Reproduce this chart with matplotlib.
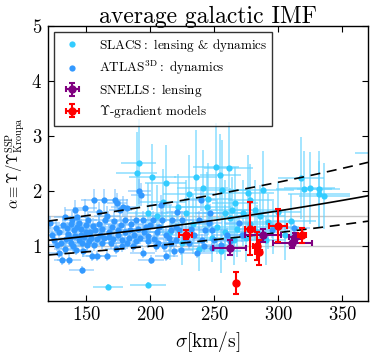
import numpy as np
import matplotlib
matplotlib.use("Agg")
import matplotlib.pyplot as plt

plt.rcParams['mathtext.fontset'] = 'cm'
plt.rcParams['font.family'] = 'serif'
plt.rcParams['font.serif'] = ['cmr10', 'DejaVu Serif']
plt.rcParams['axes.formatter.use_mathtext'] = True

# ATLAS3D : dynamics
atlas_sigma = [121.5, 123, 127.5, 128.8, 131, 133, 135, 136.5, 137, 139, 139.5, 140.5, 141, 143, 144,
               144.3, 145.6, 146.4, 147.4, 149, 149.5, 150.8, 151.5, 153.3, 154.6, 155.9, 157, 158.5,
               159.8, 161, 163.7, 165, 166, 167.5, 170, 172.7, 174, 174.8, 176.6, 177.9, 179, 180.5,
               181.8, 183, 184.3, 186.2, 188.7, 191.3, 192.6, 193.9, 194.4, 196.5, 197.8, 200.4, 202.2,
               204.3, 205.6, 208.1, 209.4, 210.7, 212.6, 214.6, 215.9, 217.2, 218.5, 219.8, 221.1, 222.4,
               223.7, 225, 236.6, 237.9, 239.2, 243, 245.6, 246.9, 248.2, 248.2, 259.8, 268.9, 271.4,
               294.7, 312.4,
               125, 126, 129, 130, 132, 133, 134, 136, 138, 138, 141, 142, 143, 146, 147, 148, 150, 152,
               153, 155, 156, 158, 160, 162, 162, 164, 166, 168, 169, 171, 172, 173, 175, 177, 178, 180,
               182, 185, 187, 189, 190, 192, 195, 198, 200, 203, 206, 207, 212, 216, 220, 227, 230, 232,
               234, 240, 242, 250, 255, 262]
atlas_alpha = [1.41, 1.20, 1.02, 0.87, 0.75, 1.53, 1.32, 0.75, 1.14, 1.47, 0.99, 1.29, 1.65, 1.35, 1.11,
               1.41, 1.20, 0.56, 0.90, 1.68, 1.26, 1.02, 1.47, 1.14, 0.81, 1.84, 1.29, 0.81,
               1.62, 1.20, 1.84, 1.47, 0.81, 1.17, 1.35, 1.84, 1.78, 1.29, 1.65, 0.99, 1.71, 1.47,
               1.68, 1.14, 1.29, 0.99, 1.47, 1.99, 1.93, 0.87, 1.47, 1.35, 1.08, 0.75, 1.47,
               0.99, 1.26, 1.74, 1.47, 0.99, 0.81, 1.14, 1.29, 1.47, 0.90, 1.11, 1.62, 1.29,
               0.93, 1.47, 0.87, 1.47, 1.84, 1.29, 1.41, 1.59, 0.96, 1.29, 1.20, 1.41, 1.20,
               1.29, 1.32,
               1.10, 1.33, 1.25, 1.05, 1.38, 0.95, 1.12, 1.22, 1.40, 1.06, 1.18, 0.93, 1.52, 1.30, 1.05, 1.16, 1.38, 1.08,
               1.25, 1.36, 1.02, 1.12, 1.40, 1.06, 1.30, 1.15, 1.55, 1.26, 1.05, 1.12, 1.45, 0.95, 1.20, 1.38, 1.10, 1.25,
               1.05, 1.40, 1.20, 1.08, 1.30, 1.15, 1.25, 1.18, 1.38, 1.12, 1.05, 1.35, 1.20, 1.05, 1.35, 1.15, 1.05, 1.30,
               1.20, 1.10, 1.00, 1.10, 1.02, 1.08]
atlas_sig_err = [8, 6, 7, 9, 6, 8, 7, 9, 6, 8, 7, 9, 8, 6, 7,
                 9, 8, 10, 7, 9, 6, 8, 7, 9, 8, 10, 7, 9,
                 8, 7, 10, 9, 8, 7, 9, 10, 8, 7, 9, 8, 10, 9,
                 8, 7, 9, 8, 10, 9, 8, 10, 9, 8, 7, 10, 9,
                 8, 10, 9, 8, 10, 9, 8, 10, 9, 8, 10, 9, 8,
                 10, 9, 11, 10, 12, 11, 10, 12, 11, 10, 12, 11, 12,
                 13, 12,
                 7, 6, 8, 7, 6, 8, 7, 9, 8, 6, 7, 9, 8, 7, 6, 8, 9, 7,
                 8, 9, 7, 8, 9, 7, 8, 9, 10, 8, 9, 7, 10, 8, 9, 10, 8, 9,
                 10, 9, 8, 10, 9, 8, 10, 9, 10, 8, 9, 10, 9, 10, 11, 10, 11, 10,
                 11, 12, 11, 12, 11, 12]
atlas_alpha_err = [0.14, 0.10, 0.12, 0.09, 0.10, 0.18, 0.12, 0.10, 0.11, 0.16, 0.10, 0.12, 0.18, 0.13, 0.11,
                   0.15, 0.12, 0.08, 0.10, 0.18, 0.12, 0.10, 0.16, 0.12, 0.09, 0.20, 0.13, 0.09,
                   0.18, 0.12, 0.20, 0.16, 0.09, 0.12, 0.14, 0.20, 0.19, 0.13, 0.18, 0.10, 0.19, 0.16,
                   0.18, 0.12, 0.14, 0.10, 0.16, 0.22, 0.21, 0.09, 0.16, 0.14, 0.11, 0.08, 0.16,
                   0.10, 0.13, 0.19, 0.16, 0.10, 0.09, 0.12, 0.14, 0.16, 0.10, 0.12, 0.18, 0.14,
                   0.10, 0.16, 0.09, 0.16, 0.20, 0.14, 0.15, 0.17, 0.10, 0.14, 0.13, 0.15, 0.13,
                   0.14, 0.14,
                   0.11, 0.14, 0.13, 0.11, 0.15, 0.10, 0.12, 0.13, 0.15, 0.11, 0.12, 0.10, 0.16, 0.14, 0.11, 0.12, 0.15, 0.11,
                   0.13, 0.15, 0.11, 0.12, 0.15, 0.11, 0.14, 0.12, 0.17, 0.13, 0.11, 0.12, 0.16, 0.10, 0.13, 0.15, 0.12, 0.13,
                   0.11, 0.15, 0.13, 0.11, 0.14, 0.12, 0.13, 0.12, 0.15, 0.12, 0.11, 0.14, 0.13, 0.11, 0.14, 0.12, 0.11, 0.14,
                   0.13, 0.12, 0.11, 0.12, 0.11, 0.12]

# SLACS : lensing & dynamics
slacs_sigma = [167, 189.3, 190.8, 198.5, 201.7, 212, 235.3, 241, 251.3, 254.6, 256, 258.5, 261.1, 263.7,
               266.3, 276.6, 277.9, 281.8, 288.2, 292.1, 317.9, 320, 324.4, 331.4, 331.6, 336, 375,
               205, 215, 225, 228, 233, 238, 244, 248, 252, 255, 258, 262, 265, 268, 272, 275, 278,
               283, 286, 290, 296, 300, 305, 310, 198, 210, 222, 230, 245]
slacs_alpha = [0.26, 2.32, 2.50, 0.29, 2.25, 2.14, 2.26, 2.05, 2.44, 2.29, 2.02, 1.59, 2.41, 1.65,
               1.78, 1.96, 1.84, 1.65, 2.02, 1.44, 2.23, 2.03, 2.05, 2.03, 1.95, 1.91, 2.68,
               1.55, 1.25, 1.05, 1.60, 1.40, 0.95, 1.70, 1.15, 1.35, 0.90, 1.25, 1.50, 1.10, 1.30, 1.60, 1.15, 1.40,
               1.25, 1.55, 1.10, 1.35, 1.62, 1.20, 1.45, 1.60, 1.80, 1.70, 1.95, 1.85]
slacs_sig_err = [12, 16, 14, 14, 18, 16, 17, 20, 18, 16, 22, 17, 19, 16,
                 18, 20, 17, 19, 24, 20, 18, 22, 20, 17, 24, 20, 15,
                 16, 18, 14, 20, 17, 16, 19, 15, 18, 16, 20, 17, 19, 16, 21, 18, 20,
                 17, 19, 16, 20, 18, 17, 19, 16, 18, 17, 20, 19]
slacs_alpha_err = [0.05, 0.75, 0.8, 0.05, 0.6, 0.7, 0.85, 0.7, 0.8, 0.75, 0.9, 0.6, 0.85, 0.6,
                   0.65, 0.7, 0.65, 0.55, 0.7, 0.5, 0.75, 0.7, 0.65, 0.7, 0.6, 0.6, 0.3,
                   0.55, 0.5, 0.4, 0.6, 0.55, 0.4, 0.65, 0.45, 0.5, 0.4, 0.5, 0.55, 0.45, 0.5, 0.6, 0.45, 0.55,
                   0.5, 0.55, 0.45, 0.5, 0.55, 0.45, 0.5, 0.55, 0.6, 0.6, 0.7, 0.65]

# SNELLS : lensing
snells_sigma = [261.9, 287.7, 311.0, 312.6]
snells_alpha = [0.97, 1.19, 1.06, 1.16]
snells_sig_err = [13, 14, 15, 4.5]
snells_alpha_err = [0.14, 0.12, 0.10, 0.08]

# Upsilon-gradient models
grad_sigma = [227.7, 266.7, 277.9, 283.0, 284.5, 300.0, 318.6]
grad_alpha = [1.20, 0.33, 1.31, 1.00, 0.88, 1.37, 1.19]
grad_sig_err = [5, 0, 4, 3, 3, 7, 3]
grad_alpha_err = [0.08, 0.20, 0.48, 0.25, 0.22, 0.30, 0.14]

# fit: log10(alpha) = a + b (sigma - 200), scatter in dex
fit_a = 0.118
fit_b = 0.00096
fit_scatter = 0.12
ref_levels = [1.0, 1.55]

fig = plt.figure(figsize=(3.74, 3.54), dpi=100)
ax = fig.add_axes([0.128, 0.150, 0.856, 0.777])

for lev in ref_levels:
    ax.axhline(lev, color='#c8c8c8', lw=1.0, zorder=0)

ax.errorbar(slacs_sigma, slacs_alpha, xerr=slacs_sig_err, yerr=slacs_alpha_err, fmt='none',
            ecolor='#66d4ff', alpha=0.7, elinewidth=1.2, zorder=1)
ax.errorbar(atlas_sigma, atlas_alpha, xerr=atlas_sig_err, yerr=atlas_alpha_err, fmt='none',
            ecolor='#6cbcff', alpha=0.65, elinewidth=1.1, zorder=1)
ax.plot(slacs_sigma, slacs_alpha, 'o', color='#33ccff', ms=4.5, mec='none', zorder=2,
        label=r'$\rm SLACS:\ lensing$ & $\rm dynamics$')
ax.plot(atlas_sigma, atlas_alpha, 'o', color='#3399ff', ms=4.5, mec='none', zorder=2,
        label=r'$\rm ATLAS^{3D}:\ dynamics$')

s = np.linspace(120, 370, 100)
logfit = fit_a + fit_b * (s - 200)
ax.plot(s, 10**logfit, 'k-', lw=1.2, zorder=3)
ax.plot(s, 10**(logfit + fit_scatter), color='k', ls=(0, (6, 4)), lw=1.2, zorder=3)
ax.plot(s, 10**(logfit - fit_scatter), color='k', ls=(0, (6, 4)), lw=1.2, zorder=3)

ax.errorbar(snells_sigma, snells_alpha, xerr=snells_sig_err, yerr=snells_alpha_err, fmt='o',
            color='purple', ms=5, elinewidth=1.5, capsize=2.5, capthick=1.5, zorder=4,
            label=r'$\rm SNELLS:\ lensing$')
ax.errorbar(grad_sigma, grad_alpha, xerr=grad_sig_err, yerr=grad_alpha_err, fmt='o',
            color='red', ms=5, elinewidth=1.5, capsize=2.5, capthick=1.5, zorder=5,
            label=r'$\Upsilon$-gradient models')

ax.set_xlim(120, 370)
ax.set_ylim(0, 5)
ax.set_xticks([150, 200, 250, 300, 350])
ax.set_yticks([1, 2, 3, 4, 5])
ax.tick_params(direction='in', top=True, right=True, labelsize=13.5, length=4, pad=4)
for sp in ax.spines.values():
    sp.set_linewidth(1.0)

ax.set_xlabel(r'$\sigma[\rm km/s]$', fontsize=14, labelpad=3)
ax.set_ylabel(r'$\alpha\equiv\Upsilon/\Upsilon^{\rm SSP}_{\rm Kroupa}$', fontsize=10.5)
ax.yaxis.set_label_coords(-0.065, 0.5)
ax.set_title('average galactic IMF', fontsize=17, pad=2)

leg = ax.legend(loc='upper left', fontsize=9.5, frameon=True, fancybox=False,
                edgecolor='black', borderpad=0.4, labelspacing=0.35, handletextpad=1.0,
                borderaxespad=0.45, numpoints=1)
leg.get_frame().set_linewidth(1.0)

fig.savefig('out.png', dpi=100)
